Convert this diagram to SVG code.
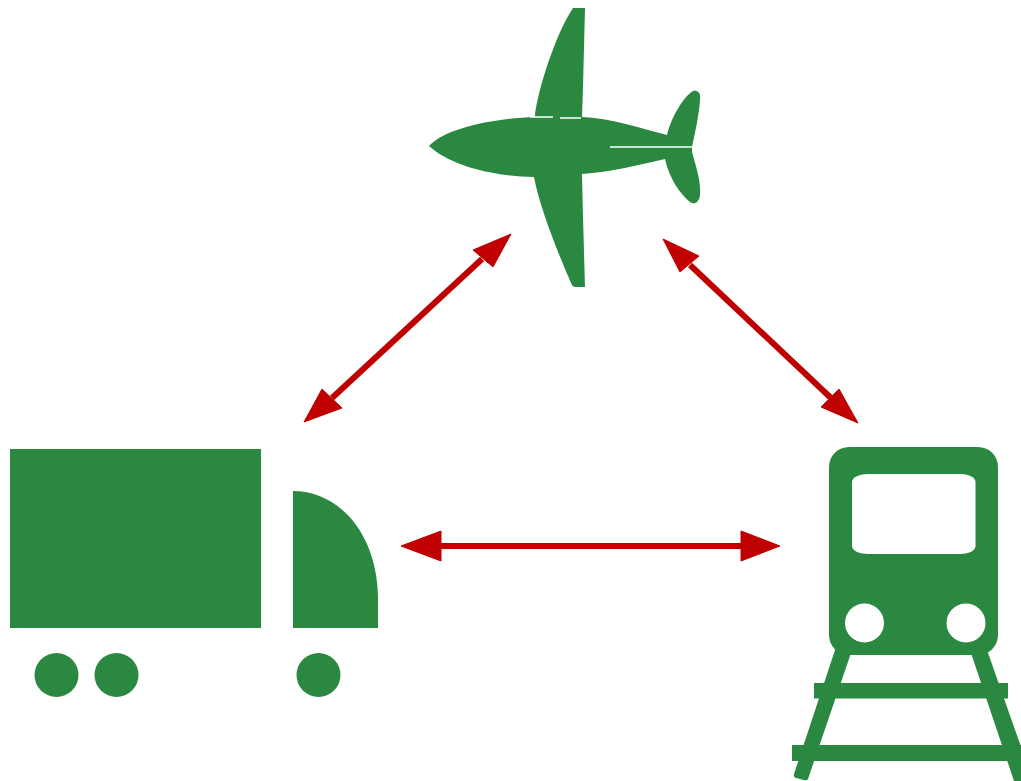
<svg xmlns="http://www.w3.org/2000/svg" width="1021" height="781" viewBox="0 0 1021 781">
<style>
.g{fill:#2a8841}
.w{fill:#fff}
.wl{stroke:#fff;stroke-width:1.5;fill:none}
.c{stroke:#c00000;stroke-width:6;fill:none}
.h{fill:#c00000;stroke:#c00000;stroke-width:1;stroke-linejoin:round}
</style>
<rect width="1021" height="781" fill="#fff"/>
<g id="plane">
<path class="g" d="M429 146C445 128 495 118 535 117L535 115C538 90 555 35 573 8L585 8L583 87L582 117C610 118 640 128 667 135C671 118 683 97 693 91C698 90 701 93 700 100C699 115 695 133 692 147L692 152C697 170 701 182 700 195C699 203 694 205 690 202C680 194 669 178 665 159C640 165 610 172 582 174L583 217L585 287L575 287Q572 286 572 285C563 265 540 210 534 177C490 176 450 165 429 146Z"/>
<path class="wl" d="M530 117L553 117M560 118L581 118M610 147L694 147"/>
</g>
<g id="truck">
<rect class="g" x="10" y="449" width="251" height="179"/>
<path class="g" d="M293 491C340 491 378 535 378 600L378 628L293 628Z"/>
<circle class="g" cx="56.500" cy="675" r="22"/>
<circle class="g" cx="116.500" cy="675" r="22"/>
<circle class="g" cx="318.500" cy="675" r="22"/>
</g>
<g id="train">
<path class="g" d="M835 650L852 650L808 779Q807 781 804 780L796 778Q793 777 794 774Z"/>
<path class="g" d="M970 650L987 650L1033 781L1014 781Z"/>
<rect class="g" x="814" y="683" width="194" height="15.500"/>
<rect class="g" x="792" y="745" width="229" height="16"/>
<rect class="g" x="829" y="447" width="169" height="208" rx="20"/>
<path class="w" d="M852 482C852 477 860 474 868 474L960 474C968 474 975.500 477 975.500 482L975.500 546C975.500 551 968 554 960 554L868 554C860 554 852 551 852 546Z"/>
<circle class="w" cx="864.500" cy="623" r="19.500"/>
<circle class="w" cx="966" cy="623" r="19.500"/>
</g>
<g id="connectors">
<path class="c" d="M482 259L332 398"/>
<path class="h" d="M511 234L493 267L473 250ZM304 422L322 389L342 408Z"/>
<path class="c" d="M690 265L831 398"/>
<path class="h" d="M663 239L699 256L680 272ZM858 423L821 407L839 389Z"/>
<path class="c" d="M440 546L742 546"/>
<path class="h" d="M401 546L441 531L441 561ZM780 546L741 531L741 561Z"/>
</g>
</svg>
